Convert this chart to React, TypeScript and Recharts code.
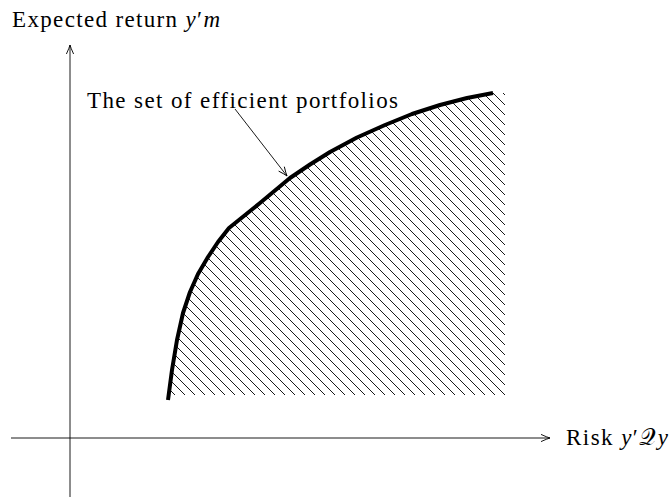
import React from 'react';
import { ComposedChart, XAxis, YAxis, Line, Area, ReferenceDot } from 'recharts';

// Efficient frontier: risk (x) vs expected return (y)
const frontier = [
  { risk: 9.8, ret: 3.8 },
  { risk: 10.2, ret: 6.8 },
  { risk: 10.7, ret: 9.8 },
  { risk: 11.3, ret: 12.5 },
  { risk: 12.0, ret: 14.6 },
  { risk: 12.8, ret: 16.4 },
  { risk: 13.8, ret: 18.1 },
  { risk: 14.8, ret: 19.6 },
  { risk: 15.9, ret: 21.0 },
  { risk: 19.0, ret: 23.5 },
  { risk: 22.0, ret: 26.0 },
  { risk: 24.0, ret: 27.35 },
  { risk: 26.0, ret: 28.6 },
  { risk: 28.7, ret: 30.05 },
  { risk: 31.5, ret: 31.3 },
  { risk: 34.2, ret: 32.4 },
  { risk: 37.0, ret: 33.3 },
  { risk: 39.7, ret: 34.0 },
  { risk: 42.3, ret: 34.5 },
];

// Upper edge of the attainable (hatched) set
const attainableTop = [
  { risk: 9.87, ret: 4.3 },
  ...frontier.slice(1),
  { risk: 43.5, ret: 34.5 },
];
const attainableFloor = 4.3;

// Coordinate axes
const riskAxis = [
  { risk: -5.9, ret: 0 },
  { risk: 48.0, ret: 0 },
];
const returnAxis = [
  { risk: 0, ret: -5.9 },
  { risk: 0, ret: 39.3 },
];

// Annotation pointer from the caption to the frontier
const pointer = [
  { risk: 16.5, ret: 32.9 },
  { risk: 21.7, ret: 26.2 },
];

const FONT = "'Liberation Serif', 'DejaVu Serif', serif";

const angleOf = (pts: { risk: number; ret: number }[]) => {
  const a = pts[pts.length - 2];
  const b = pts[pts.length - 1];
  return (Math.atan2(-(b.ret - a.ret), b.risk - a.risk) * 180) / Math.PI;
};

const arrowHead = (pts: { risk: number; ret: number }[]) => {
  const angle = angleOf(pts);
  const last = pts.length - 1;
  return (props: any) => {
    const { cx, cy, index } = props;
    if (index !== last || cx == null || cy == null) return <g key={`n${index}`} />;
    return (
      <path
        key={`a${index}`}
        transform={`translate(${cx},${cy}) rotate(${angle})`}
        d="M-9,-3.6 Q-3,-0.8 0,0 Q-3,0.8 -9,3.6"
        fill="none"
        stroke="#000"
        strokeWidth={0.9}
      />
    );
  };
};

const textLabel = (parts: { t: string; italic?: boolean }[], size: number, width: number) => (props: any) => {
  const { viewBox } = props;
  return (
    <text
      x={viewBox.x}
      y={viewBox.y}
      fontFamily={FONT}
      fontSize={size}
      fill="#000"
      textLength={width}
      lengthAdjust="spacing"
    >
      {parts.map((p, i) => (
        <tspan key={i} fontFamily={FONT} fontStyle={p.italic ? 'italic' : 'normal'}>
          {p.t}
        </tspan>
      ))}
    </text>
  );
};

export default function App() {
  return (
    <div style={{ position: 'absolute', left: 0, top: 0, background: '#fff' }}>
      <ComposedChart width={670} height={497} margin={{ top: 0, right: 0, bottom: 0, left: 0 }}>
        <defs>
          <pattern id="hatch" patternUnits="userSpaceOnUse" width={10} height={10}>
            <path d="M-2,-2 L12,12 M-7,3 L7,17 M3,-7 L17,7" stroke="#000" strokeWidth={0.9} />
          </pattern>
        </defs>
        <XAxis type="number" dataKey="risk" domain={[-7, 60]} hide allowDataOverflow />
        <YAxis type="number" dataKey="ret" domain={[-5.9, 43.8]} hide allowDataOverflow />

        <Area
          data={attainableTop}
          dataKey="ret"
          type="linear"
          baseValue={attainableFloor}
          fill="url(#hatch)"
          fillOpacity={1}
          stroke="none"
          isAnimationActive={false}
        />

        <Line
          data={riskAxis}
          dataKey="ret"
          type="linear"
          stroke="#000"
          strokeWidth={0.9}
          dot={arrowHead(riskAxis)}
          activeDot={false}
          isAnimationActive={false}
        />
        <Line
          data={returnAxis}
          dataKey="ret"
          type="linear"
          stroke="#000"
          strokeWidth={0.9}
          dot={arrowHead(returnAxis)}
          activeDot={false}
          isAnimationActive={false}
        />

        <Line
          data={frontier}
          dataKey="ret"
          type="linear"
          stroke="#000"
          strokeWidth={4}
          strokeLinejoin="round"
          dot={false}
          activeDot={false}
          isAnimationActive={false}
        />

        <Line
          data={pointer}
          dataKey="ret"
          type="linear"
          stroke="#000"
          strokeWidth={0.9}
          dot={arrowHead(pointer)}
          activeDot={false}
          isAnimationActive={false}
        />

        <ReferenceDot
          x={-5.8}
          y={41.1}
          r={0}
          fill="none"
          stroke="none"
          label={textLabel([{ t: 'Expected return ' }, { t: 'y', italic: true }, { t: '′' }, { t: 'm', italic: true }], 23, 208)}
        />
        <ReferenceDot
          x={1.7}
          y={33.0}
          r={0}
          fill="none"
          stroke="none"
          label={textLabel([{ t: 'The set of efficient portfolios' }], 23, 311)}
        />
        <ReferenceDot
          x={49.6}
          y={-0.7}
          r={0}
          fill="none"
          stroke="none"
          label={textLabel([{ t: 'Risk ' }, { t: 'y', italic: true }, { t: '′' }, { t: '𝒬' }, { t: 'y', italic: true }], 23, 102)}
        />
      </ComposedChart>
    </div>
  );
}
